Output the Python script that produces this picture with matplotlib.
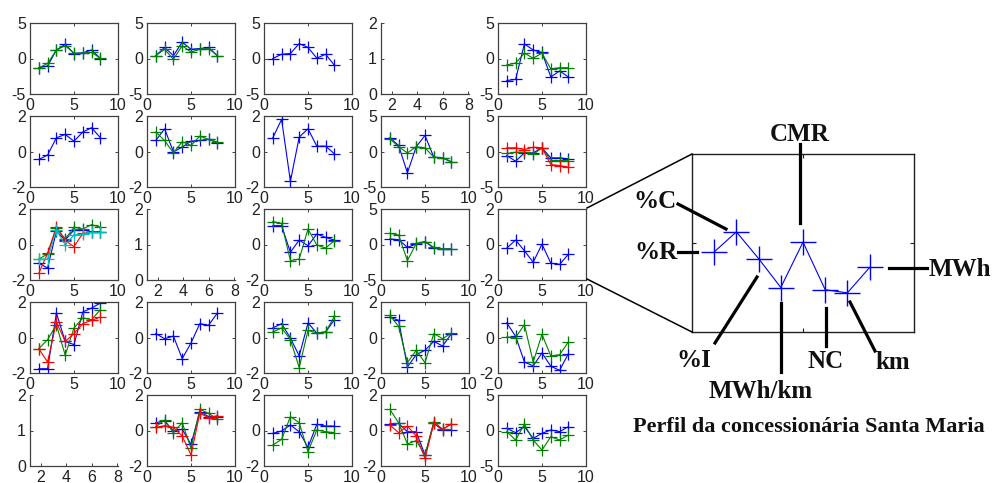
import matplotlib
matplotlib.use("Agg")
import matplotlib.pyplot as plt
from matplotlib.lines import Line2D

# attribute index on the x axis of every panel
attr_idx = [1, 2, 3, 4, 5, 6, 7, 8]
attr_names = ["%R", "%C", "%I", "MWh/km", "CMR", "NC", "km", "MWh"]

# ---- cluster profiles (row, column) ----
p11_b = [-1.3, -1.05, 1.2, 2.0, 0.7, 0.8, 1.2, 0.0]
p11_g = [-1.3, -0.7, 1.2, 1.8, 0.75, 0.75, 0.85, 0.05]

p12_b = [0.4, 1.55, 0.4, 2.3, 1.3, 1.4, 1.55, 0.4]
p12_g = [0.4, 1.3, -0.1, 1.8, 0.9, 1.3, 1.4, 0.4]

p13_b = [0.0, 0.6, 0.7, 2.1, 1.55, 0.05, 0.6, -0.95]

p15_b = [-3.1, -2.95, 2.05, 1.2, 0.85, -2.6, -1.75, -2.6]
p15_g = [-0.9, -0.65, 0.75, 0.05, 0.75, -1.45, -1.3, -1.3]

p21_b = [-0.45, -0.2, 0.77, 0.96, 0.58, 1.1, 1.34, 0.77]

p22_b = [0.62, 1.28, -0.02, 0.25, 0.58, 0.62, 0.68, 0.5]
p22_g = [1.1, 0.62, -0.08, 0.55, 0.34, 0.87, 0.68, 0.53]

p23_b = [0.77, 1.81, -1.68, 0.81, 1.28, 0.3, 0.3, -0.13]

p24_b = [1.93, 0.85, -3.0, 0.66, 2.26, -0.8, -0.9, -1.46]
p24_g = [1.8, 0.66, -0.2, 0.66, 0.52, -0.8, -0.9, -1.46]

p25_b = [-0.57, -1.37, -0.19, -0.19, 0.52, -0.9, -0.9, -1.04]
p25_g = [-0.28, -0.1, -0.1, -0.42, 0.52, -1.27, -1.27, -1.27]
p25_r = [0.52, 0.52, 0.28, 0.61, 0.52, -1.84, -1.98, -2.2]

p31_b = [-1.06, -1.32, 0.74, 0.25, 0.82, 0.82, 0.72, 0.72]
p31_g = [-0.82, -0.54, 0.93, 0.31, 0.97, 0.87, 1.12, 0.97]
p31_r = [-1.62, -0.5, 1.0, 0.22, -0.12, 0.63, 0.68, 0.68]
p31_c = [-0.82, -0.82, 0.82, -0.03, 0.54, 0.59, 0.68, 0.68]

p33_b = [1.06, 1.06, -0.44, 0.25, -0.07, 0.59, 0.4, 0.25]
p33_g = [1.29, 1.19, -0.91, -0.82, 0.87, -0.03, -0.2, 0.22]

p34_b = [0.77, 0.68, -0.4, 0.07, 0.4, -0.49, -0.63, -0.63]
p34_g = [1.57, 1.34, -2.28, 0.16, 0.4, -0.4, -0.63, -0.63]

# Santa Maria profile (also shown enlarged)
santa_maria = [-0.2, 0.25, -0.35, -1.0, 0.02, -1.05, -1.12, -0.55]

p41_b = [-1.76, -1.76, 1.38, -0.22, -0.4, 1.44, 1.66, 1.94]
p41_g = [-0.63, -0.12, 0.72, -1.0, 0.54, 1.1, 1.0, 1.57]
p41_r = [-0.63, -1.38, 0.87, -0.22, 0.22, 0.78, 0.97, 1.15]

p42_b = [0.22, -0.07, 0.08, -1.19, -0.31, 0.78, 0.69, 1.38]

p43_b = [0.54, 0.78, -0.03, -1.04, 0.82, 0.25, 0.31, 1.0]
p43_g = [0.31, 0.54, -0.12, -1.7, 0.4, 0.25, 0.31, 1.19]

p44_b = [1.15, 0.97, -1.66, -0.97, -0.72, -0.22, -0.48, 0.22]
p44_g = [1.25, 0.63, -1.42, -0.72, -1.42, 0.22, -0.07, 0.25]

p45_b = [0.82, 0.07, -1.38, -1.6, -0.87, -1.62, -1.85, -0.91]
p45_g = [0.03, 0.0, 0.72, -1.38, 0.18, -1.04, -0.97, -0.25]

p52_b = [0.44, 0.53, -0.03, 0.07, -0.78, 1.06, 0.78, 0.78]
p52_g = [0.22, 0.59, -0.12, 0.44, -1.0, 1.19, 0.97, 0.63]
p52_r = [0.18, 0.27, 0.18, -0.31, -1.38, 0.97, 0.72, 0.84]

p53_b = [-0.16, -0.03, 0.31, -0.07, -0.95, 0.35, 0.25, 0.25]
p53_g = [-0.82, -0.5, 0.78, 0.44, -1.19, 0.03, -0.07, -0.12]

p54_b = [0.37, 0.4, -0.07, -0.07, -1.38, 0.4, 0.03, 0.03]
p54_g = [1.19, 0.44, -0.76, -0.57, -1.38, 0.5, 0.07, 0.37]
p54_r = [0.31, -0.12, 0.25, -0.31, -1.57, 0.4, 0.07, 0.37]

p55_b = [0.3, -0.3, 0.54, -1.1, -0.4, 0.07, -0.16, 0.54]
p55_g = [-0.16, -1.34, 0.87, -1.34, -2.75, -0.87, -1.34, -0.63]

BLUE, GREEN, RED, CYAN = "#0000ff", "#008000", "#ff0000", "#00bfbf"

# (row, col) -> (y limit, list of (series, colour)); None = empty axes
panels = {
    (0, 0): (5, [(p11_b, BLUE), (p11_g, GREEN)]),
    (0, 1): (5, [(p12_b, BLUE), (p12_g, GREEN)]),
    (0, 2): (5, [(p13_b, BLUE)]),
    (0, 3): None,
    (0, 4): (5, [(p15_b, BLUE), (p15_g, GREEN)]),
    (1, 0): (2, [(p21_b, BLUE)]),
    (1, 1): (2, [(p22_b, BLUE), (p22_g, GREEN)]),
    (1, 2): (2, [(p23_b, BLUE)]),
    (1, 3): (5, [(p24_b, BLUE), (p24_g, GREEN)]),
    (1, 4): (5, [(p25_b, BLUE), (p25_g, GREEN), (p25_r, RED)]),
    (2, 0): (2, [(p31_b, BLUE), (p31_g, GREEN), (p31_r, RED), (p31_c, CYAN)]),
    (2, 1): None,
    (2, 2): (2, [(p33_b, BLUE), (p33_g, GREEN)]),
    (2, 3): (5, [(p34_b, BLUE), (p34_g, GREEN)]),
    (2, 4): (2, [(santa_maria, BLUE)]),
    (3, 0): (2, [(p41_b, BLUE), (p41_g, GREEN), (p41_r, RED)]),
    (3, 1): (2, [(p42_b, BLUE)]),
    (3, 2): (2, [(p43_b, BLUE), (p43_g, GREEN)]),
    (3, 3): (2, [(p44_b, BLUE), (p44_g, GREEN)]),
    (3, 4): (2, [(p45_b, BLUE), (p45_g, GREEN)]),
    (4, 0): None,
    (4, 1): (2, [(p52_b, BLUE), (p52_g, GREEN), (p52_r, RED)]),
    (4, 2): (2, [(p53_b, BLUE), (p53_g, GREEN)]),
    (4, 3): (2, [(p54_b, BLUE), (p54_g, GREEN), (p54_r, RED)]),
    (4, 4): (5, [(p55_b, BLUE), (p55_g, GREEN)]),
}

plt.rcParams["font.family"] = ["Liberation Sans", "DejaVu Sans"]
plt.rcParams["axes.unicode_minus"] = False
W, H = 993, 483
fig = plt.figure(figsize=(W / 100, H / 100), dpi=100)


def rect(left, top, w, h):
    return [left / W, 1 - (top + h) / H, w / W, h / H]


def fpt(x, y):
    return (x / W, 1 - y / H)


col_left = [30, 147, 264, 381, 498]
row_top = [23, 116, 209, 302, 395]
AX_W, AX_H = 88, 71
SPINE = "#404040"
TXT = "#222222"

for (r, c), spec in panels.items():
    ax = fig.add_axes(rect(col_left[c], row_top[r], AX_W, AX_H))
    ax.tick_params(labelsize=11.5, colors=TXT, direction="in", length=2.5,
                   width=0.6, pad=3)
    for s in ax.spines.values():
        s.set_color(SPINE)
        s.set_linewidth(0.9)
    if spec is None:
        ax.set_xlim(1.15, 8.05)
        ax.set_ylim(0, 2)
        ax.set_xticks([2, 4, 6, 8])
        ax.set_yticks([0, 1, 2])
        ax.spines["top"].set_visible(False)
        ax.spines["right"].set_visible(False)
        continue
    lim, series = spec
    for vals, col in series:
        ax.plot(attr_idx, vals, color=col, lw=0.8, marker="+", ms=8, mew=0.9)
    ax.set_xlim(0, 10)
    ax.set_ylim(-lim, lim)
    ax.set_xticks([0, 5, 10])
    ax.set_yticks([-lim, 0, lim])
    ax.tick_params(top=True, right=True)

# enlarged Santa Maria profile
big = fig.add_axes(rect(692, 154, 222, 178))
big.plot(attr_idx, santa_maria, color=BLUE, lw=0.8, marker="+", ms=19, mew=1.0)
big.set_xlim(0, 10)
big.set_ylim(-2, 2)
big.set_xticks([5])
big.set_yticks([0])
big.set_xticklabels([])
big.set_yticklabels([])
big.tick_params(direction="in", length=3, top=True, right=True, color="#202020")
for s in big.spines.values():
    s.set_color("#202020")
    s.set_linewidth(1.0)

# zoom lines from the small panel to the enlarged one
for a, b in [((587, 208), (692, 154)), ((587, 279), (692, 332))]:
    fig.add_artist(Line2D([fpt(*a)[0], fpt(*b)[0]], [fpt(*a)[1], fpt(*b)[1]],
                          transform=fig.transFigure, color="black", lw=1.1))

# label text position (centre x, baseline y) and leader segment, in pixels
label_layout = {
    "%R": ((656, 259), ((678, 252), (697, 252))),
    "%C": ((655, 208), ((678, 204), (726, 229))),
    "%I": ((694, 367), ((757, 277), (715, 343))),
    "MWh/km": ((761, 398), ((781, 303), (781, 372))),
    "CMR": ((800, 141), ((800, 144), (800, 223))),
    "NC": ((826, 368), ((826, 308), (826, 346))),
    "km": ((893, 369), ((850, 302), (875, 351))),
    "MWh": ((960, 276), ((889, 268), (927, 268))),
}
serif = ["Liberation Serif", "DejaVu Serif"]
for name in attr_names:
    (tx, ty), (a, b) = label_layout[name]
    fig.text(*fpt(tx, ty), name, ha="center", va="baseline", family=serif,
             fontsize=18, fontweight="bold", color="#111111")
    fig.add_artist(Line2D([fpt(*a)[0], fpt(*b)[0]], [fpt(*a)[1], fpt(*b)[1]],
                          transform=fig.transFigure, color="black", lw=2.3))

fig.text(*fpt(809, 432), "Perfil da concessionária Santa Maria", ha="center",
         va="baseline", family=serif, fontsize=16, fontweight="bold",
         color="#111111")

fig.savefig("out.png", dpi=100)
